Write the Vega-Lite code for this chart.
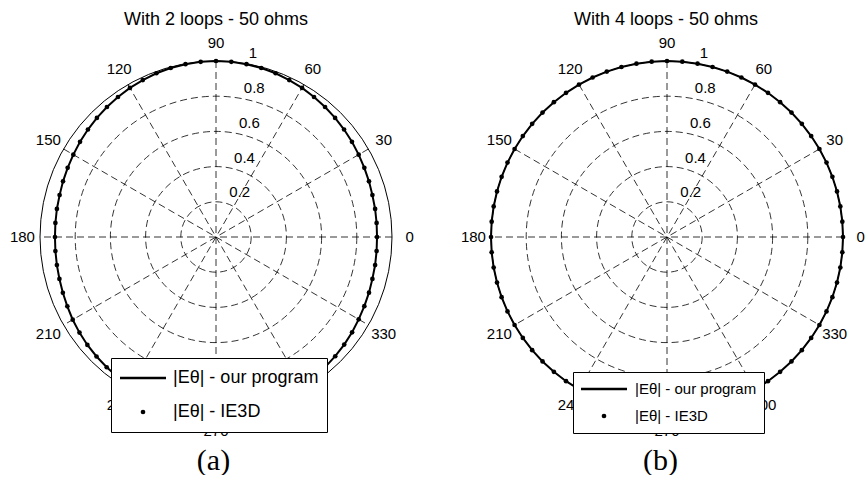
{
  "$schema": "https://vega.github.io/schema/vega-lite/v6.json",
  "background": "white",
  "padding": {"left": 0, "right": 0, "top": 11, "bottom": 0},
  "spacing": 15,
  "config": {
    "view": {"stroke": null},
    "font": "Liberation Sans",
    "text": {"font": "Liberation Sans", "color": "black"}
  },
  "datasets": {
    "rings": [{"r": 0.2}, {"r": 0.4}, {"r": 0.6}, {"r": 0.8}, {"r": 1}],
    "angles": [
      {"angle": 0}, {"angle": 30}, {"angle": 60}, {"angle": 90}, {"angle": 120}, {"angle": 150},
      {"angle": 180}, {"angle": 210}, {"angle": 240}, {"angle": 270}, {"angle": 300}, {"angle": 330}
    ],
    "program_2loops": [
      {"theta": 0, "r": 0.915}, {"theta": 5, "r": 0.916}, {"theta": 10, "r": 0.918}, {"theta": 15, "r": 0.92},
      {"theta": 20, "r": 0.925}, {"theta": 25, "r": 0.93}, {"theta": 30, "r": 0.936}, {"theta": 35, "r": 0.943},
      {"theta": 40, "r": 0.95}, {"theta": 45, "r": 0.957}, {"theta": 50, "r": 0.964}, {"theta": 55, "r": 0.971},
      {"theta": 60, "r": 0.978}, {"theta": 65, "r": 0.984}, {"theta": 70, "r": 0.99}, {"theta": 75, "r": 0.994},
      {"theta": 80, "r": 0.997}, {"theta": 85, "r": 0.999}, {"theta": 90, "r": 1.0}, {"theta": 95, "r": 0.999},
      {"theta": 100, "r": 0.997}, {"theta": 105, "r": 0.994}, {"theta": 110, "r": 0.99}, {"theta": 115, "r": 0.984},
      {"theta": 120, "r": 0.978}, {"theta": 125, "r": 0.971}, {"theta": 130, "r": 0.964}, {"theta": 135, "r": 0.957},
      {"theta": 140, "r": 0.95}, {"theta": 145, "r": 0.943}, {"theta": 150, "r": 0.936}, {"theta": 155, "r": 0.93},
      {"theta": 160, "r": 0.925}, {"theta": 165, "r": 0.92}, {"theta": 170, "r": 0.918}, {"theta": 175, "r": 0.916},
      {"theta": 180, "r": 0.915}, {"theta": 185, "r": 0.916}, {"theta": 190, "r": 0.918}, {"theta": 195, "r": 0.921},
      {"theta": 200, "r": 0.926}, {"theta": 205, "r": 0.932}, {"theta": 210, "r": 0.94}, {"theta": 215, "r": 0.947},
      {"theta": 220, "r": 0.954}, {"theta": 225, "r": 0.96}, {"theta": 230, "r": 0.966}, {"theta": 235, "r": 0.972},
      {"theta": 240, "r": 0.978}, {"theta": 245, "r": 0.984}, {"theta": 250, "r": 0.99}, {"theta": 255, "r": 0.994},
      {"theta": 260, "r": 0.997}, {"theta": 265, "r": 0.999}, {"theta": 270, "r": 1.0}, {"theta": 275, "r": 0.999},
      {"theta": 280, "r": 0.997}, {"theta": 285, "r": 0.994}, {"theta": 290, "r": 0.99}, {"theta": 295, "r": 0.984},
      {"theta": 300, "r": 0.978}, {"theta": 305, "r": 0.972}, {"theta": 310, "r": 0.965}, {"theta": 315, "r": 0.958},
      {"theta": 320, "r": 0.951}, {"theta": 325, "r": 0.944}, {"theta": 330, "r": 0.936}, {"theta": 335, "r": 0.93},
      {"theta": 340, "r": 0.925}, {"theta": 345, "r": 0.92}, {"theta": 350, "r": 0.918}, {"theta": 355, "r": 0.916},
      {"theta": 360, "r": 0.915}
    ],
    "ie3d_2loops": [
      {"theta": 0, "r": 0.915}, {"theta": 5, "r": 0.916}, {"theta": 10, "r": 0.918}, {"theta": 15, "r": 0.92},
      {"theta": 20, "r": 0.925}, {"theta": 25, "r": 0.93}, {"theta": 30, "r": 0.936}, {"theta": 35, "r": 0.943},
      {"theta": 40, "r": 0.95}, {"theta": 45, "r": 0.957}, {"theta": 50, "r": 0.964}, {"theta": 55, "r": 0.971},
      {"theta": 60, "r": 0.978}, {"theta": 65, "r": 0.984}, {"theta": 70, "r": 0.99}, {"theta": 75, "r": 0.994},
      {"theta": 80, "r": 0.997}, {"theta": 85, "r": 0.999}, {"theta": 90, "r": 1.0}, {"theta": 95, "r": 0.999},
      {"theta": 100, "r": 0.997}, {"theta": 105, "r": 0.994}, {"theta": 110, "r": 0.99}, {"theta": 115, "r": 0.984},
      {"theta": 120, "r": 0.978}, {"theta": 125, "r": 0.971}, {"theta": 130, "r": 0.964}, {"theta": 135, "r": 0.957},
      {"theta": 140, "r": 0.95}, {"theta": 145, "r": 0.943}, {"theta": 150, "r": 0.936}, {"theta": 155, "r": 0.93},
      {"theta": 160, "r": 0.925}, {"theta": 165, "r": 0.92}, {"theta": 170, "r": 0.918}, {"theta": 175, "r": 0.916},
      {"theta": 180, "r": 0.915}, {"theta": 185, "r": 0.916}, {"theta": 190, "r": 0.918}, {"theta": 195, "r": 0.921},
      {"theta": 200, "r": 0.926}, {"theta": 205, "r": 0.932}, {"theta": 210, "r": 0.94}, {"theta": 215, "r": 0.947},
      {"theta": 220, "r": 0.954}, {"theta": 225, "r": 0.96}, {"theta": 230, "r": 0.966}, {"theta": 235, "r": 0.972},
      {"theta": 240, "r": 0.978}, {"theta": 245, "r": 0.984}, {"theta": 250, "r": 0.99}, {"theta": 255, "r": 0.994},
      {"theta": 260, "r": 0.997}, {"theta": 265, "r": 0.999}, {"theta": 270, "r": 1.0}, {"theta": 275, "r": 0.999},
      {"theta": 280, "r": 0.997}, {"theta": 285, "r": 0.994}, {"theta": 290, "r": 0.99}, {"theta": 295, "r": 0.984},
      {"theta": 300, "r": 0.978}, {"theta": 305, "r": 0.972}, {"theta": 310, "r": 0.965}, {"theta": 315, "r": 0.958},
      {"theta": 320, "r": 0.951}, {"theta": 325, "r": 0.944}, {"theta": 330, "r": 0.936}, {"theta": 335, "r": 0.93},
      {"theta": 340, "r": 0.925}, {"theta": 345, "r": 0.92}, {"theta": 350, "r": 0.918}, {"theta": 355, "r": 0.916}
    ],
    "program_4loops": [
      {"theta": 0, "r": 1}, {"theta": 5, "r": 1}, {"theta": 10, "r": 1}, {"theta": 15, "r": 1}, {"theta": 20, "r": 1},
      {"theta": 25, "r": 1}, {"theta": 30, "r": 1}, {"theta": 35, "r": 1}, {"theta": 40, "r": 1}, {"theta": 45, "r": 1},
      {"theta": 50, "r": 1}, {"theta": 55, "r": 1}, {"theta": 60, "r": 1}, {"theta": 65, "r": 1}, {"theta": 70, "r": 1},
      {"theta": 75, "r": 1}, {"theta": 80, "r": 1}, {"theta": 85, "r": 1}, {"theta": 90, "r": 1}, {"theta": 95, "r": 1},
      {"theta": 100, "r": 1}, {"theta": 105, "r": 1}, {"theta": 110, "r": 1}, {"theta": 115, "r": 1}, {"theta": 120, "r": 1},
      {"theta": 125, "r": 1}, {"theta": 130, "r": 1}, {"theta": 135, "r": 1}, {"theta": 140, "r": 1}, {"theta": 145, "r": 1},
      {"theta": 150, "r": 1}, {"theta": 155, "r": 1}, {"theta": 160, "r": 1}, {"theta": 165, "r": 1}, {"theta": 170, "r": 1},
      {"theta": 175, "r": 1}, {"theta": 180, "r": 1}, {"theta": 185, "r": 1}, {"theta": 190, "r": 1}, {"theta": 195, "r": 1},
      {"theta": 200, "r": 1}, {"theta": 205, "r": 1}, {"theta": 210, "r": 1}, {"theta": 215, "r": 1}, {"theta": 220, "r": 1},
      {"theta": 225, "r": 1}, {"theta": 230, "r": 1}, {"theta": 235, "r": 1}, {"theta": 240, "r": 1}, {"theta": 245, "r": 1},
      {"theta": 250, "r": 1}, {"theta": 255, "r": 1}, {"theta": 260, "r": 1}, {"theta": 265, "r": 1}, {"theta": 270, "r": 1},
      {"theta": 275, "r": 1}, {"theta": 280, "r": 1}, {"theta": 285, "r": 1}, {"theta": 290, "r": 1}, {"theta": 295, "r": 1},
      {"theta": 300, "r": 1}, {"theta": 305, "r": 1}, {"theta": 310, "r": 1}, {"theta": 315, "r": 1}, {"theta": 320, "r": 1},
      {"theta": 325, "r": 1}, {"theta": 330, "r": 1}, {"theta": 335, "r": 1}, {"theta": 340, "r": 1}, {"theta": 345, "r": 1},
      {"theta": 350, "r": 1}, {"theta": 355, "r": 1}, {"theta": 360, "r": 1}
    ],
    "ie3d_4loops": [
      {"theta": 0, "r": 1}, {"theta": 5, "r": 1}, {"theta": 10, "r": 1}, {"theta": 15, "r": 1}, {"theta": 20, "r": 1},
      {"theta": 25, "r": 1}, {"theta": 30, "r": 1}, {"theta": 35, "r": 1}, {"theta": 40, "r": 1}, {"theta": 45, "r": 1},
      {"theta": 50, "r": 1}, {"theta": 55, "r": 1}, {"theta": 60, "r": 1}, {"theta": 65, "r": 1}, {"theta": 70, "r": 1},
      {"theta": 75, "r": 1}, {"theta": 80, "r": 1}, {"theta": 85, "r": 1}, {"theta": 90, "r": 1}, {"theta": 95, "r": 1},
      {"theta": 100, "r": 1}, {"theta": 105, "r": 1}, {"theta": 110, "r": 1}, {"theta": 115, "r": 1}, {"theta": 120, "r": 1},
      {"theta": 125, "r": 1}, {"theta": 130, "r": 1}, {"theta": 135, "r": 1}, {"theta": 140, "r": 1}, {"theta": 145, "r": 1},
      {"theta": 150, "r": 1}, {"theta": 155, "r": 1}, {"theta": 160, "r": 1}, {"theta": 165, "r": 1}, {"theta": 170, "r": 1},
      {"theta": 175, "r": 1}, {"theta": 180, "r": 1}, {"theta": 185, "r": 1}, {"theta": 190, "r": 1}, {"theta": 195, "r": 1},
      {"theta": 200, "r": 1}, {"theta": 205, "r": 1}, {"theta": 210, "r": 1}, {"theta": 215, "r": 1}, {"theta": 220, "r": 1},
      {"theta": 225, "r": 1}, {"theta": 230, "r": 1}, {"theta": 235, "r": 1}, {"theta": 240, "r": 1}, {"theta": 245, "r": 1},
      {"theta": 250, "r": 1}, {"theta": 255, "r": 1}, {"theta": 260, "r": 1}, {"theta": 265, "r": 1}, {"theta": 270, "r": 1},
      {"theta": 275, "r": 1}, {"theta": 280, "r": 1}, {"theta": 285, "r": 1}, {"theta": 290, "r": 1}, {"theta": 295, "r": 1},
      {"theta": 300, "r": 1}, {"theta": 305, "r": 1}, {"theta": 310, "r": 1}, {"theta": 315, "r": 1}, {"theta": 320, "r": 1},
      {"theta": 325, "r": 1}, {"theta": 330, "r": 1}, {"theta": 335, "r": 1}, {"theta": 340, "r": 1}, {"theta": 345, "r": 1},
      {"theta": 350, "r": 1}, {"theta": 355, "r": 1}
    ]
  },
  "resolve": {
    "scale": {"shape": "independent", "size": "independent"},
    "legend": {"shape": "independent", "size": "independent"}
  },
  "hconcat": [
    {
      "width": 432,
      "height": 406,
      "title": {"text": "With 2 loops - 50 ohms", "font": "Liberation Sans", "fontSize": 18, "fontWeight": "normal", "color": "black", "baseline": "alphabetic", "offset": -9, "anchor": "middle"},
      "resolve": {
        "scale": {"size": "independent", "shape": "independent"},
        "legend": {"size": "independent", "shape": "independent"}
      },
      "encoding": {
        "x": {"field": "x", "type": "quantitative", "scale": {"domain": [-1.22727, 1.22727], "nice": false, "zero": false},
              "axis": {"title": "(a)", "labels": false, "ticks": false, "domain": false, "grid": false, "titleFont": "Liberation Serif", "titleFontSize": 30, "titleFontWeight": "normal", "titleColor": "black", "titlePadding": 5, "titleX": 213, "titleAlign": "center"}},
        "y": {"field": "y", "type": "quantitative", "scale": {"domain": [-1.15341, 1.15341], "nice": false, "zero": false}, "axis": null}
      },
      "layer": [
        {
          "data": {"name": "rings"},
          "transform": [{"filter": "datum.r < 1"}, {"calculate": "0", "as": "x"}, {"calculate": "0", "as": "y"}],
          "mark": {"type": "point", "shape": "circle", "filled": false, "stroke": "black", "strokeWidth": 0.8, "strokeDash": [7, 4], "opacity": 1},
          "encoding": {
            "size": {"field": "r", "type": "quantitative", "legend": null, "scale": {"type": "pow", "exponent": 2, "domain": [0, 1], "range": [0, 123904], "zero": true, "nice": false}}}
        },
        {
          "data": {"name": "angles"},
          "transform": [
            {"filter": "datum.angle < 180"},
            {"calculate": "cos(datum.angle * PI / 180)", "as": "x"},
            {"calculate": "sin(datum.angle * PI / 180)", "as": "y"},
            {"calculate": "-datum.x", "as": "x2"},
            {"calculate": "-datum.y", "as": "y2"}
          ],
          "mark": {"type": "rule", "color": "black", "strokeWidth": 0.8, "strokeDash": [7, 4]},
          "encoding": {"x2": {"field": "x2"}, "y2": {"field": "y2"}}
        },
        {
          "data": {"name": "rings"},
          "transform": [{"filter": "datum.r == 1"}, {"calculate": "0", "as": "x"}, {"calculate": "0", "as": "y"}],
          "mark": {"type": "point", "shape": "circle", "filled": false, "stroke": "black", "strokeWidth": 1, "opacity": 1},
          "encoding": {
            "size": {"field": "r", "type": "quantitative", "legend": null, "scale": {"type": "pow", "exponent": 2, "domain": [0, 1], "range": [0, 123904], "zero": true, "nice": false}}}
        },
        {
          "data": {"name": "angles"},
          "transform": [
            {"calculate": "1.1 * cos(datum.angle * PI / 180)", "as": "x"},
            {"calculate": "1.1 * sin(datum.angle * PI / 180)", "as": "y"}
          ],
          "mark": {"type": "text", "fontSize": 15, "align": "center", "baseline": "middle"},
          "encoding": {"text": {"field": "angle", "type": "quantitative"}}
        },
        {
          "data": {"name": "rings"},
          "transform": [
            {"calculate": "(datum.r + 0.01) * cos(82 * PI / 180)", "as": "x"},
            {"calculate": "(datum.r + 0.01) * sin(82 * PI / 180)", "as": "y"}
          ],
          "mark": {"type": "text", "fontSize": 15, "align": "left", "baseline": "bottom", "dx": 8},
          "encoding": {"text": {"field": "r", "type": "quantitative", "format": "~g"}}
        },
        {
          "data": {"name": "program_2loops"},
          "transform": [
            {"calculate": "datum.r * cos(datum.theta * PI / 180)", "as": "x"},
            {"calculate": "datum.r * sin(datum.theta * PI / 180)", "as": "y"}
          ],
          "mark": {"type": "line", "color": "black", "strokeWidth": 2},
          "encoding": {"order": {"field": "theta", "type": "quantitative"}}
        },
        {
          "data": {"name": "ie3d_2loops"},
          "transform": [
            {"calculate": "datum.r * cos(datum.theta * PI / 180)", "as": "x"},
            {"calculate": "datum.r * sin(datum.theta * PI / 180)", "as": "y"},
            {"calculate": "'|Eθ| - IE3D'", "as": "series"}
          ],
          "mark": {"type": "point", "filled": true, "color": "black", "opacity": 1},
          "encoding": {
            "shape": {"field": "series", "type": "nominal",
              "scale": {"domain": ["|Eθ| - our program", "|Eθ| - IE3D"], "range": ["M-1,-0.055L1,-0.055L1,0.055L-1,0.055Z", "circle"]},
              "legend": {"title": null, "orient": "none", "legendX": 111, "legendY": 324, "direction": "vertical",
                "padding": 8, "clipHeight": 24, "rowPadding": 10, "labelOffset": 6, "labelFontSize": 18, "labelFont": "Liberation Sans", "labelColor": "black", "labelLimit": 300,
                "strokeColor": "black", "fillColor": "white", "cornerRadius": 0}},
            "size": {"field": "series", "type": "nominal",
              "scale": {"type": "ordinal", "domain": ["|Eθ| - our program", "|Eθ| - IE3D"], "range": [2116, 22]}}
          }
        }
      ]
    },
    {
      "width": 418,
      "height": 406,
      "title": {"text": "With 4 loops - 50 ohms", "font": "Liberation Sans", "fontSize": 18, "fontWeight": "normal", "color": "black", "baseline": "alphabetic", "offset": -9, "anchor": "middle", "dx": 10},
      "resolve": {
        "scale": {"size": "independent", "shape": "independent"},
        "legend": {"size": "independent", "shape": "independent"}
      },
      "encoding": {
        "x": {"field": "x", "type": "quantitative", "scale": {"domain": [-1.25, 1.125], "nice": false, "zero": false},
              "axis": {"title": "(b)", "labels": false, "ticks": false, "domain": false, "grid": false, "titleFont": "Liberation Serif", "titleFontSize": 30, "titleFontWeight": "normal", "titleColor": "black", "titlePadding": 5, "titleX": 213, "titleAlign": "center"}},
        "y": {"field": "y", "type": "quantitative", "scale": {"domain": [-1.15341, 1.15341], "nice": false, "zero": false}, "axis": null}
      },
      "layer": [
        {
          "data": {"name": "rings"},
          "transform": [{"filter": "datum.r < 1"}, {"calculate": "0", "as": "x"}, {"calculate": "0", "as": "y"}],
          "mark": {"type": "point", "shape": "circle", "filled": false, "stroke": "black", "strokeWidth": 0.8, "strokeDash": [7, 4], "opacity": 1},
          "encoding": {
            "size": {"field": "r", "type": "quantitative", "legend": null, "scale": {"type": "pow", "exponent": 2, "domain": [0, 1], "range": [0, 123904], "zero": true, "nice": false}}}
        },
        {
          "data": {"name": "angles"},
          "transform": [
            {"filter": "datum.angle < 180"},
            {"calculate": "cos(datum.angle * PI / 180)", "as": "x"},
            {"calculate": "sin(datum.angle * PI / 180)", "as": "y"},
            {"calculate": "-datum.x", "as": "x2"},
            {"calculate": "-datum.y", "as": "y2"}
          ],
          "mark": {"type": "rule", "color": "black", "strokeWidth": 0.8, "strokeDash": [7, 4]},
          "encoding": {"x2": {"field": "x2"}, "y2": {"field": "y2"}}
        },
        {
          "data": {"name": "rings"},
          "transform": [{"filter": "datum.r == 1"}, {"calculate": "0", "as": "x"}, {"calculate": "0", "as": "y"}],
          "mark": {"type": "point", "shape": "circle", "filled": false, "stroke": "black", "strokeWidth": 1, "opacity": 1},
          "encoding": {
            "size": {"field": "r", "type": "quantitative", "legend": null, "scale": {"type": "pow", "exponent": 2, "domain": [0, 1], "range": [0, 123904], "zero": true, "nice": false}}}
        },
        {
          "data": {"name": "angles"},
          "transform": [
            {"calculate": "1.1 * cos(datum.angle * PI / 180)", "as": "x"},
            {"calculate": "1.1 * sin(datum.angle * PI / 180)", "as": "y"}
          ],
          "mark": {"type": "text", "fontSize": 15, "align": "center", "baseline": "middle"},
          "encoding": {"text": {"field": "angle", "type": "quantitative"}}
        },
        {
          "data": {"name": "rings"},
          "transform": [
            {"calculate": "(datum.r + 0.01) * cos(82 * PI / 180)", "as": "x"},
            {"calculate": "(datum.r + 0.01) * sin(82 * PI / 180)", "as": "y"}
          ],
          "mark": {"type": "text", "fontSize": 15, "align": "left", "baseline": "bottom", "dx": 8},
          "encoding": {"text": {"field": "r", "type": "quantitative", "format": "~g"}}
        },
        {
          "data": {"name": "program_4loops"},
          "transform": [
            {"calculate": "datum.r * cos(datum.theta * PI / 180)", "as": "x"},
            {"calculate": "datum.r * sin(datum.theta * PI / 180)", "as": "y"}
          ],
          "mark": {"type": "line", "color": "black", "strokeWidth": 2},
          "encoding": {"order": {"field": "theta", "type": "quantitative"}}
        },
        {
          "data": {"name": "ie3d_4loops"},
          "transform": [
            {"calculate": "datum.r * cos(datum.theta * PI / 180)", "as": "x"},
            {"calculate": "datum.r * sin(datum.theta * PI / 180)", "as": "y"},
            {"calculate": "'|Eθ| - IE3D'", "as": "series"}
          ],
          "mark": {"type": "point", "filled": true, "color": "black", "opacity": 1},
          "encoding": {
            "shape": {"field": "series", "type": "nominal",
              "scale": {"domain": ["|Eθ| - our program", "|Eθ| - IE3D"], "range": ["M-1,-0.055L1,-0.055L1,0.055L-1,0.055Z", "circle"]},
              "legend": {"title": null, "orient": "none", "legendX": 126, "legendY": 338, "direction": "vertical",
                "padding": 7, "clipHeight": 20, "rowPadding": 7, "labelOffset": 7, "labelFontSize": 15, "labelFont": "Liberation Sans", "labelColor": "black", "labelLimit": 300,
                "strokeColor": "black", "fillColor": "white", "cornerRadius": 0}},
            "size": {"field": "series", "type": "nominal",
              "scale": {"type": "ordinal", "domain": ["|Eθ| - our program", "|Eθ| - IE3D"], "range": [2116, 22]}}
          }
        }
      ]
    }
  ]
}
